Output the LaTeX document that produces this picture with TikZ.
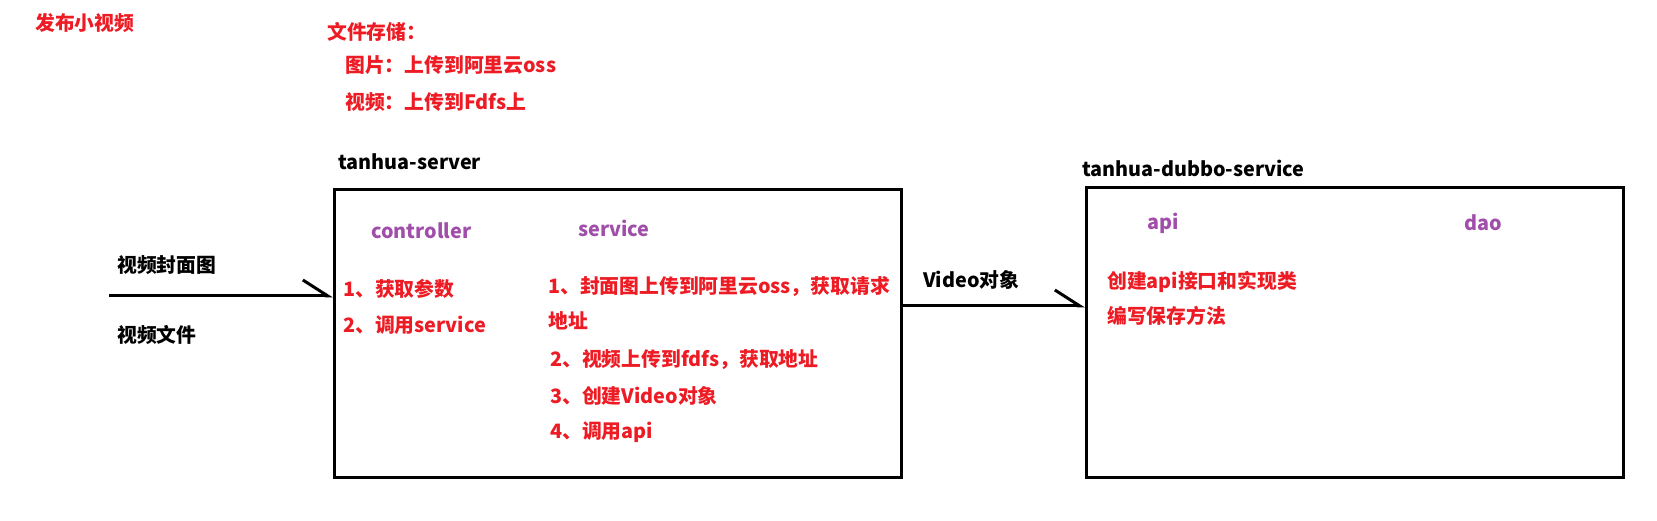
\documentclass[tikz,border=0pt]{standalone}
\usepackage{fontspec}
\setmainfont{Noto Sans CJK SC}
\usetikzlibrary{arrows.meta}
\definecolor{tred}{RGB}{237,28,36}
\definecolor{tpurple}{RGB}{160,78,170}
\begin{document}
\begin{tikzpicture}[x=1pt,y=-1pt,
  txt/.style={anchor=west,inner sep=0pt,font=\fontsize{19.8}{22}\selectfont\bfseries},
  redtxt/.style={txt,text=tred},
  purtxt/.style={txt,text=tpurple},
  blktxt/.style={txt,text=black},
  box/.style={draw,line width=3pt,inner sep=0pt,anchor=north west},
  link/.style={line width=3pt,-{Straight Barb[left,length=25pt,width=32pt]}}
]
\useasboundingbox (0,0) rectangle (1657,521);
% boxes
\node[box,minimum width=567pt,minimum height=288pt] (lbox) at (333,188) {};
\node[box,minimum width=537pt,minimum height=290pt] (rbox) at (1085,186) {};
% headings
\node[redtxt] (t0) at (35,23) {发布小视频};
\node[redtxt] (t1) at (327,32) {文件存储：};
\node[redtxt] (t2) at (345,65) {图片：上传到阿里云oss};
\node[redtxt] (t3) at (345,102) {视频：上传到Fdfs上};
\node[blktxt] (ts) at (338,162) {tanhua-server};
\node[blktxt] (td) at (1082,168) {tanhua-dubbo-service};
% layer labels
\node[purtxt] (lc) at (371,231) {controller};
\node[purtxt] (ls) at (578,228) {service};
\node[purtxt] (la) at (1147,223) {api};
\node[purtxt] (ld) at (1464,223) {dao};
% inputs
\node[blktxt] (i1) at (117,265) {视频封面图};
\node[blktxt] (i2) at (117,335) {视频文件};
% controller steps
\node[redtxt] (c1) at (343,289) {1、获取参数};
\node[redtxt] (c2) at (343,325) {2、调用service};
% service steps
\node[redtxt] (s1) at (548,287) {1、封面图上传到阿里云oss，获取请求};
\node[redtxt] (s1b) at (548,321) {地址};
\node[redtxt] (s2) at (550,360) {2、视频上传到fdfs，获取地址};
\node[redtxt] (s3) at (550,396) {3、创建Video对象};
\node[redtxt] (s4) at (550,432) {4、调用api};
% api steps
\node[redtxt] (a1) at (1107,282) {创建api接口和实现类};
\node[redtxt] (a2) at (1107,316) {编写保存方法};
% connectors
\node[blktxt] (vo) at (923,280) {Video对象};
\coordinate (src) at (109,296);
\coordinate (lvl2) at (0,306);
\draw[link] (src) -- (src -| lbox.west);
\draw[link] (lvl2 -| lbox.east) -- (lvl2 -| rbox.west);
\end{tikzpicture}
\end{document}
